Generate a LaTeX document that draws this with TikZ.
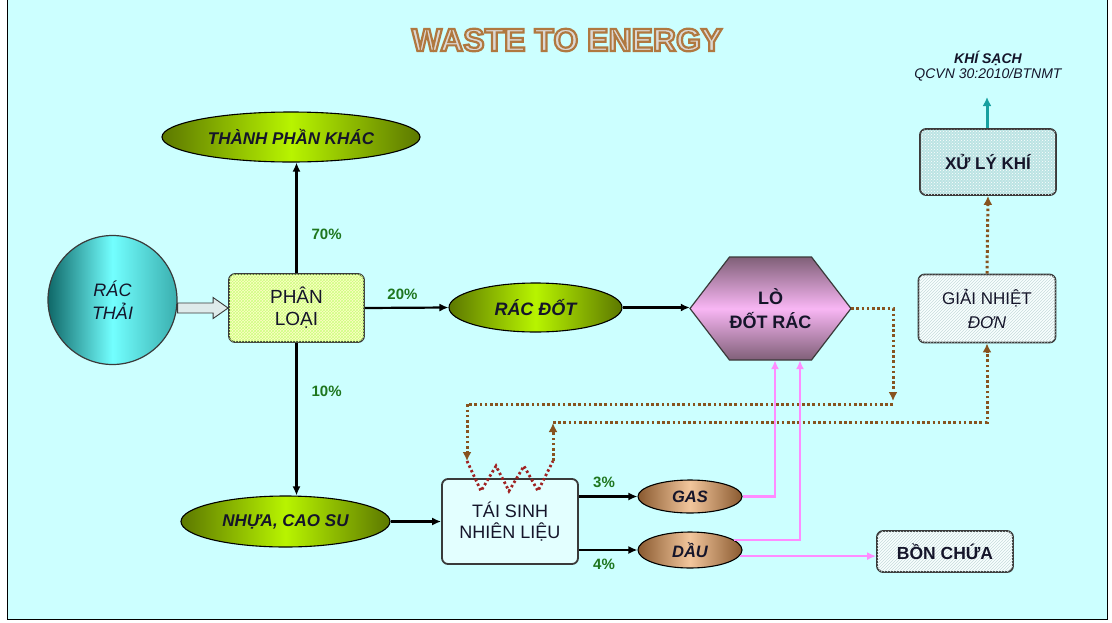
\documentclass[tikz,border=0pt]{standalone}
\usepackage{fontspec}
\setmainfont{Liberation Sans}
\usepackage{tikz}
\usetikzlibrary{arrows.meta}
\usetikzlibrary{shapes.geometric,patterns,calc}
\definecolor{colorNen}{HTML}{CCFFFF}
\definecolor{colorVien}{HTML}{3A3A3A}
\definecolor{colorChu}{HTML}{15152A}
\definecolor{colorOliu}{HTML}{5C7800}
\definecolor{colorChanh}{HTML}{B8F400}
\definecolor{colorNau}{HTML}{8A5A30}
\definecolor{colorBe}{HTML}{F2C69C}
\definecolor{colorTim}{HTML}{806078}
\definecolor{colorHongNhat}{HTML}{F8B6F4}
\definecolor{colorNhiet}{HTML}{87531F}
\definecolor{colorLoXo}{HTML}{A02222}
\definecolor{colorHong}{HTML}{FF8CFF}
\definecolor{colorTeal}{HTML}{17A0A0}
\definecolor{colorPhanTram}{HTML}{1E761E}
\definecolor{colorChuTieuDe}{HTML}{DCD8D4}
% chu vien (text render mode 2)
\newcommand{\chuvien}[1]{\textcolor{colorChuTieuDe}{\special{pdf:literal direct 2 Tr 2.2 w 0.69 0.47 0.25 RG}#1\special{pdf:literal direct 0 Tr}}}

\begin{document}
\begin{tikzpicture}[x=1pt,y=-1pt,
  hop/.style={draw=colorVien, line width=1.8pt, rounded corners=6pt, align=center, inner sep=0pt, text=colorChu},
  elip/.style={ellipse, draw=black, line width=1.1pt, inner sep=0pt, text=colorChu, font=\bfseries\itshape\fontsize{17}{20}\selectfont},
  xanhla/.style={elip, left color=colorOliu, right color=colorOliu, middle color=colorChanh},
  nau/.style={elip, left color=colorNau, right color=colorNau, middle color=colorBe, font=\bfseries\itshape\fontsize{16.5}{18}\selectfont},
  soc/.style={hop, fill=white!90!colorNen, postaction={pattern=north east lines, pattern color=colorNen!60!gray!70}},
  luong/.style={line width=2.2pt, -{Latex[length=9pt,width=8pt]}},
  nhiet/.style={draw=colorNhiet, line width=3pt, dash pattern=on 2.6pt off 2.6pt, -{Latex[length=9pt,width=9pt]}},
  xang/.style={draw=colorHong, line width=2.4pt, -{Latex[length=9pt,width=8pt]}},
  pct/.style={text=colorPhanTram, font=\bfseries\fontsize{15}{17}\selectfont, inner sep=2pt},
]
  \useasboundingbox (0,0) rectangle (1112,622);
  % Nen
  \fill[white] (0,0) rectangle (1112,622);
  \draw[fill=colorNen, line width=1pt] (7,-3) rectangle (1107,619);

  \node[font=\bfseries\fontsize{32}{36}\selectfont] (tieude) at (567,40) {\chuvien{WASTE TO ENERGY}};

  % Cac khoi
  \node[circle, minimum size=129pt, inner sep=0pt, draw=colorVien, line width=1.2pt,
    left color=colorTeal!65!black, right color=colorTeal!85!white, middle color=cyan!55!white,
    align=center, text=colorChu, font=\itshape\fontsize{18}{23}\selectfont] (racthai) at (112.5,300) {RÁC\\THẢI};
  \node[hop, minimum width=135pt, minimum height=68pt, fill=yellow!22,
    postaction={pattern=crosshatch, pattern color=yellow!60!green!50},
    font=\fontsize{19}{22}\selectfont] (phanloai) at (296.5,308) {PHÂN\\LOẠI};
  \node[xanhla, minimum width=258pt, minimum height=50pt] (khac) at (291,137) {THÀNH PHẦN KHÁC};
  \node[xanhla, minimum width=173pt, minimum height=49pt, font=\bfseries\itshape\fontsize{18}{20}\selectfont] (racdot) at (535.5,307.5) {RÁC ĐỐT};
  \node[xanhla, minimum width=209pt, minimum height=51pt] (nhua) at (285.5,521.5) {NHỰA, CAO SU};

  \path[top color=colorTim, bottom color=colorTim, middle color=colorHongNhat, draw=colorVien, line width=1.2pt]
    (690,308.5) -- (729.5,257) -- (811.5,257) -- (851,308.5) -- (811.5,360) -- (729.5,360) -- cycle;
  \node[align=center, minimum width=161pt, minimum height=103pt, inner sep=0pt, text=colorChu,
    font=\bfseries\fontsize{18}{24}\selectfont] (lo) at (770.5,308.5) {LÒ\\ĐỐT RÁC};

  \node[hop, minimum width=136pt, minimum height=85pt, fill=white!45!colorNen,
    font=\fontsize{18}{21}\selectfont] (taisinh) at (510,521.5) {TÁI SINH\\NHIÊN LIỆU};
  \node[nau, minimum width=104pt, minimum height=33pt] (gas) at (690,496.5) {GAS};
  \node[nau, minimum width=104pt, minimum height=36pt] (dau) at (690,550) {DẦU};
  \node[soc, minimum width=136pt, minimum height=41pt, font=\bfseries\fontsize{17.5}{20}\selectfont] (bon) at (945,551.5) {BỒN CHỨA};
  \node[soc, minimum width=137pt, minimum height=68pt, font=\fontsize{17}{24}\selectfont] (giainhiet) at (987,308.5) {GIẢI NHIỆT\\\textit{ĐƠN}};
  \node[hop, minimum width=136pt, minimum height=66pt, fill=gray!22!colorNen,
    postaction={pattern=crosshatch dots, pattern color=white},
    font=\bfseries\fontsize{17}{20}\selectfont] (xuly) at (988,162) {XỬ LÝ KHÍ};
  \node[align=center, text=colorChu, inner sep=0pt, font=\itshape\fontsize{14}{15}\selectfont] (khisach) at (988,66)
    {\textbf{KHÍ SẠCH}\\QCVN 30:2010/BTNMT};
  \coordinate (sach) at (987,97);

  % Mui ten rong
  \draw[fill=colorNen!60!gray!40, draw=colorVien, line width=0.9pt]
    (racthai.east |- phanloai.west) ++(0,-5) -- ($(phanloai.west)+(-15,-5)$) -- ($(phanloai.west)+(-15,-10.5)$)
    -- (phanloai.west) -- ($(phanloai.west)+(-15,10.5)$) -- ($(phanloai.west)+(-15,5)$)
    -- ($(racthai.east |- phanloai.west)+(0,5)$) -- cycle;

  % Phan loai
  \draw[luong] (phanloai.north) -- (phanloai.north |- khac.south) node[pct, pos=0.35, right=12pt] {70\%};
  \draw[luong] (phanloai.south) -- (phanloai.south |- nhua.north) node[pct, pos=0.32, right=12pt] {10\%};
  \draw[luong] (phanloai.east) -- (racdot.west) node[pct, pos=0.45, above=5pt] {20\%};
  \draw[luong] (racdot.east) -- (racdot.east -| lo.west);
  \draw[luong] (nhua.east) -- (taisinh.west);
  \draw[luong] (taisinh.east |- gas) -- (gas.west) node[pct, pos=0.43, above=6pt] {3\%};
  \draw[luong] (taisinh.east |- dau) -- (dau.west) node[pct, pos=0.43, below=6pt] {4\%};

  % Nhiet
  \coordinate (n1) at (893,401);
  \coordinate (n2) at (893,404);
  \coordinate (n3) at (467,461);
  \draw[nhiet] (lo.east) -| (n1);
  \draw[nhiet] (n2) -| (n3);
  \draw[draw=colorLoXo, line width=2.8pt, dash pattern=on 2.4pt off 2.6pt]
    (n3) -- ++(14,30) -- ++(15,-25) -- ++(13,25) -- ++(15,-25) -- ++(14,25) -- ++(15,-30) coordinate (n4);
  \draw[nhiet] (n4) -- ++(0,-38) coordinate (n5);
  \draw[nhiet] ($(n5)+(0,-1)$) -| (giainhiet.south);
  \draw[nhiet] (giainhiet.north) -- (xuly.south);
  \draw[draw=colorTeal, line width=3pt, -{Latex[length=9pt,width=9pt]}] (xuly.north -| sach) -- (sach);

  % Nhien lieu
  \draw[xang] (gas.east) -| ($(lo.south)+(4.5,0)$);
  \draw[xang] (dau.13) -| ($(lo.south)+(29.5,0)$);
  \draw[xang] (dau.-7) -- (bon.west |- dau.-7);
\end{tikzpicture}
\end{document}
